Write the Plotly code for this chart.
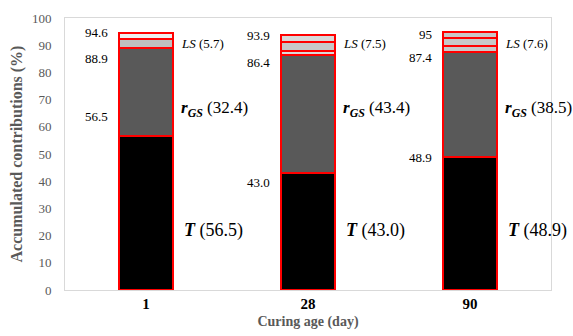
import plotly.graph_objects as go

categories = ["1", "28", "90"]
T = [56.5, 43.0, 48.9]
rGS = [32.4, 43.4, 38.5]
LS = [5.7, 7.5, 7.6]
# sub-segments of the LS band, bottom to top
LS_seg1 = [3.4, 1.5, 2.3]
LS_seg2 = [2.3, 3.3, 3.1]
LS_seg3 = [None, 2.7, 2.2]

RED = "#ff0000"
SERIF = "Liberation Serif, Times New Roman, serif"

fig = go.Figure()
line = dict(color=RED, width=2)
fig.add_bar(x=categories, y=T, marker=dict(color="#000000", line=line), name="T")
fig.add_bar(x=categories, y=rGS, marker=dict(color="#595959", line=line), name="rGS")
fig.add_bar(x=categories, y=LS_seg1, marker=dict(color=["#bfbfbf", "#d9d9d9", "#c8c8c8"], line=line), name="LS1")
fig.add_bar(x=categories, y=LS_seg2, marker=dict(color=["#eeeeee", "#c8c8c8", "#c8c8c8"], line=line), name="LS2")
fig.add_bar(x=categories, y=LS_seg3, marker=dict(color=["#eeeeee", "#d9d9d9", "#c8c8c8"], line=line), name="LS3")

def fmt(v):
    s = f"{v:.1f}"
    return s[:-2] if s.endswith(".0") and v >= 90 else s

top = [t + r + l for t, r, l in zip(T, rGS, LS)]
mid = [t + r for t, r in zip(T, rGS)]

top_shift = [0, -1, -3]
mid_shift = [-10, -8, -5]
bot_shift = [20, -9, -1]

ann = []
for i, c in enumerate(categories):
    for val, sh in ((top[i], top_shift[i]), (mid[i], mid_shift[i]), (T[i], bot_shift[i])):
        ann.append(dict(x=i, y=val, xref="x", yref="y", text=fmt(val), showarrow=False,
                        xanchor="right", yanchor="middle", xshift=-36, yshift=sh,
                        font=dict(family=SERIF, size=13, color="#000000")))
    ann.append(dict(x=i, y=90.5, xref="x", yref="y",
                    text=f"<i>LS</i> ({LS[i]:.1f})", showarrow=False,
                    xanchor="left", yanchor="middle", xshift=33,
                    font=dict(family=SERIF, size=13, color="#000000")))
    ann.append(dict(x=i, y=66.5, xref="x", yref="y",
                    text=f"<b><i>r</i></b><sub><b><i>GS</i></b></sub> ({rGS[i]:.1f})", showarrow=False,
                    xanchor="left", yanchor="middle", xshift=33,
                    font=dict(family=SERIF, size=17, color="#000000")))
    ann.append(dict(x=i, y=22, xref="x", yref="y",
                    text=f"<b><i>T</i></b> ({T[i]:.1f})", showarrow=False,
                    xanchor="left", yanchor="middle", xshift=36,
                    font=dict(family=SERIF, size=18, color="#000000")))

fig.update_layout(
    barmode="stack",
    bargap=0.667,
    width=573, height=336,
    margin=dict(l=65, r=22, t=18, b=46, autoexpand=False),
    paper_bgcolor="white", plot_bgcolor="white",
    showlegend=False,
    annotations=ann,
    font=dict(family=SERIF),
)
fig.update_xaxes(
    type="category", automargin=False, range=[-0.5, 2.5],
    showline=True, mirror=True, linecolor="#d9d9d9", linewidth=1,
    showgrid=False, ticks="",
    tickfont=dict(family=SERIF, size=15, color="#000000", weight="bold"),
    title=dict(text="<b>Curing age (day)</b>", font=dict(family=SERIF, size=14, color="#595959"), standoff=5),
)
fig.update_yaxes(
    range=[0, 100], dtick=10, automargin=False,
    showline=True, mirror=True, linecolor="#d9d9d9", linewidth=1,
    showgrid=False, zeroline=False, ticks="",
    ticklabelstandoff=10,
    tickfont=dict(family=SERIF, size=13, color="#595959"),
    title=dict(text="<b>Accumulated contributions (%)</b>", font=dict(family=SERIF, size=16, color="#595959"), standoff=5),
)

fig.write_html("out.html", config={"displayModeBar": False},
               post_script="document.body.style.margin='0';document.body.style.overflow='hidden';")
